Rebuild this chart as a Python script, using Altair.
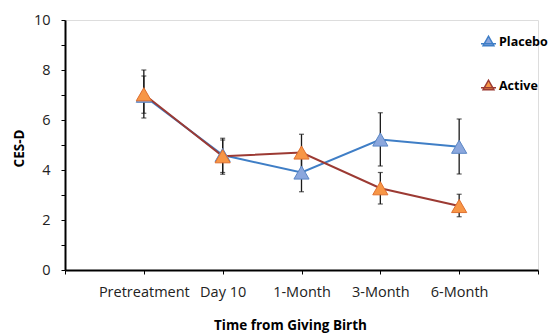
import altair as alt
import pandas as pd

categories = ["Pretreatment", "Day 10", "1-Month", "3-Month", "6-Month"]
series_names = ["Placebo", "Active"]

placebo_mean = [6.97, 4.60, 3.90, 5.22, 4.93]
placebo_lo = [6.08, 3.83, 3.13, 4.16, 3.84]
placebo_hi = [8.00, 5.27, 4.67, 6.29, 6.04]

active_mean = [7.03, 4.55, 4.70, 3.27, 2.56]
active_lo = [6.27, 3.90, 3.97, 2.64, 2.13]
active_hi = [7.76, 5.20, 5.43, 3.90, 3.03]

y_ticks = [0, 1, 2, 3, 4, 5, 6, 7, 8, 9, 10]
x_ticks = [0, 1, 2, 3, 4, 5, 6]

line_colors = ["#3F7EC6", "#9C3A33"]
fill_colors = ["#8BA7DD", "#F79646"]
edge_colors = ["#5A86C5", "#E0702F"]

FONT = "Open Sans"


def series_df(name, mean, lo, hi):
    return pd.DataFrame({
        "pos": list(range(1, len(categories) + 1)),
        "category": categories,
        "series": name,
        "mean": mean,
        "lo": lo,
        "hi": hi,
    })


dfs = [
    series_df("Placebo", placebo_mean, placebo_lo, placebo_hi),
    series_df("Active", active_mean, active_lo, active_hi),
]

label_array = "[" + ",".join(["''"] + ["'" + c + "'" for c in categories] + ["''"]) + "]"

x_axis = alt.Axis(
    values=x_ticks,
    labelExpr=label_array + "[datum.value]",
    tickSize=4,
    tickColor="#000",
    domainColor="#000",
    domainWidth=2,
    labelFontSize=14.5,
    labelColor="#222",
    labelPadding=11,
    labelFont=FONT,
    titleFont=FONT,
    titleFontSize=13.5,
    titleFontWeight="bold",
    titleColor="#000",
    titleX=225,
    titleY=48,
    titleBaseline="top",
    grid=False,
)
y_axis = alt.Axis(
    values=y_ticks,
    labelExpr="datum.value % 2 === 0 ? datum.label : ''",
    tickSize=4,
    tickColor="#000",
    domainColor="#000",
    domainWidth=2,
    labelFontSize=14.5,
    labelColor="#222",
    labelPadding=11,
    labelFont=FONT,
    titleFont=FONT,
    titleFontSize=13.5,
    titleFontWeight="bold",
    titleColor="#000",
    titleX=-46,
    titleY=128,
    titleBaseline="middle",
    grid=False,
)

x_enc = alt.X("pos:Q", scale=alt.Scale(domain=[0, 6], nice=False, zero=False),
              axis=x_axis, title="Time from Giving Birth")


def y_enc(field):
    return alt.Y(field + ":Q", scale=alt.Scale(domain=[0, 10], nice=False),
                 axis=y_axis, title="CES-D")


legend = alt.Legend(
    title=None,
    orient="none",
    legendX=415,
    legendY=13,
    symbolType="M-1,0.3H1M-0.72,0.55L0.72,0.55L0,-0.7Z",
    symbolSize=225,
    symbolStrokeWidth=1.5,
    labelFont=FONT,
    labelFontSize=12.5,
    labelFontWeight="bold",
    labelColor="#000",
    labelOffset=2,
    rowPadding=28,
)

stroke_scale = alt.Scale(domain=series_names, range=line_colors)
fill_scale = alt.Scale(domain=series_names, range=fill_colors)

lines = []
bars = []
points = []
for i, df in enumerate(dfs):
    base = alt.Chart(df)
    lines.append(
        base.mark_line(strokeWidth=2).encode(
            x=x_enc,
            y=y_enc("mean"),
            stroke=alt.Stroke("series:N", scale=stroke_scale, legend=legend),
        )
    )
    bars.append(
        base.mark_rule(color="#1a1a1a", strokeWidth=1.3).encode(
            x=x_enc, y=y_enc("lo"), y2="hi:Q"
        )
    )
    bars.append(
        base.mark_tick(orient="horizontal", size=5, thickness=1.2, color="#1a1a1a").encode(
            x=x_enc, y=y_enc("lo")
        )
    )
    bars.append(
        base.mark_tick(orient="horizontal", size=5, thickness=1.2, color="#1a1a1a").encode(
            x=x_enc, y=y_enc("hi")
        )
    )
    points.append(
        base.mark_point(shape="triangle-up", filled=True, size=230, opacity=1,
                        strokeWidth=1).encode(
            x=x_enc,
            y=y_enc("mean"),
            fill=alt.Fill("series:N", scale=fill_scale, legend=legend),
            stroke=alt.value(edge_colors[i]),
        )
    )

chart = alt.layer(*(lines + bars + points)).properties(
    width=473,
    height=250,
    autosize=alt.AutoSizeParams(type="none"),
    padding={"left": 57, "top": 12, "right": 10, "bottom": 65},
    background="white",
).configure_view(stroke=None).configure(font=FONT)

chart.save("out.html", embed_options={"renderer": "svg", "actions": False})
